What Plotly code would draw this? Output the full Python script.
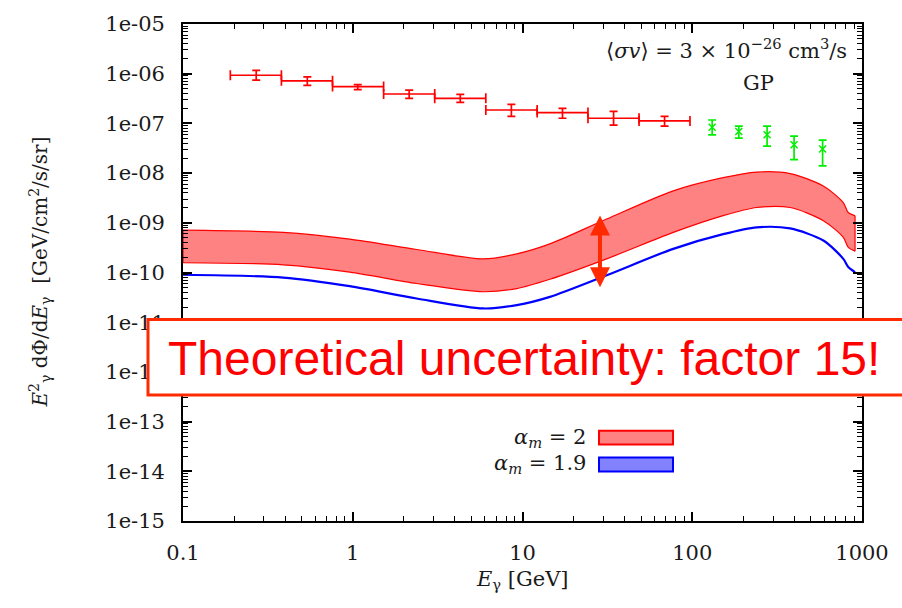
import math
import plotly.graph_objects as go

# ---------------- data ----------------
# Fermi-like data (red): bin edges, centres, flux and error limits
fermi_elo = [0.19, 0.38, 0.76, 1.52, 3.04, 6.08, 12.2, 24.3, 48.6]
fermi_ehi = [0.38, 0.76, 1.52, 3.04, 6.08, 12.2, 24.3, 48.6, 97.0]
fermi_e = [0.27, 0.54, 1.07, 2.15, 4.3, 8.6, 17.2, 34.4, 68.7]
fermi_flux = [9.3e-7, 7.2e-7, 5.5e-7, 3.9e-7, 3.2e-7, 1.86e-7, 1.65e-7, 1.27e-7, 1.12e-7]
fermi_hi = [1.17e-6, 8.6e-7, 6.05e-7, 4.67e-7, 3.83e-7, 2.42e-7, 2.0e-7, 1.75e-7, 1.39e-7]
fermi_lo = [7.4e-7, 5.8e-7, 4.8e-7, 3.18e-7, 2.65e-7, 1.39e-7, 1.27e-7, 9.2e-8, 8.8e-8]

# HESS-like data (green)
hess_e = [131, 188, 276, 398, 586]
hess_flux = [8.4e-8, 6.9e-8, 5.9e-8, 3.72e-8, 3.05e-8]
hess_hi = [1.17e-7, 8.8e-8, 8.8e-8, 5.55e-8, 4.6e-8]
hess_lo = [5.9e-8, 5.07e-8, 3.5e-8, 1.87e-8, 1.4e-8]

# model curves
band_e = [0.1, 0.39, 0.96, 2.38, 5.88, 9.25, 14.5, 31.3, 77.3, 152, 240, 377, 592, 776, 830, 910]
alpha2_upper = [7.1e-10, 6.4e-10, 4.7e-10, 2.9e-10, 1.88e-10, 2.37e-10, 3.76e-10, 1.19e-9,
                4.4e-9, 8.1e-9, 1.05e-8, 9.8e-9, 5.5e-9, 2.55e-9, 1.61e-9, 1.39e-9]
alpha2_lower = [1.57e-10, 1.43e-10, 1.02e-10, 6.0e-11, 4.1e-11, 4.75e-11, 7.3e-11, 1.88e-10,
                6.4e-10, 1.39e-9, 2.03e-9, 2.03e-9, 1.10e-9, 5.1e-10, 3.2e-10, 2.69e-10]
alpha19 = [9.0e-11, 7.9e-11, 5.3e-11, 3.0e-11, 1.89e-11, 2.21e-11, 3.24e-11, 8.8e-11,
           2.99e-10, 5.9e-10, 8.1e-10, 7.7e-10, 4.4e-10, 1.88e-10, 1.29e-10, 1.02e-10]

# arrow (uncertainty marker)
arrow_e = 28.6
arrow_top = 1.41e-9
arrow_bottom = 4.7e-11

# ticks
x_tickvals = [0.1, 1, 10, 100, 1000]
x_ticktext = ["0.1", "1", "10", "100", "1000"]
y_exps = [-5, -6, -7, -8, -9, -10, -11, -12, -13, -14, -15]
y_tickvals = [10.0 ** e for e in y_exps]
y_ticktext = ["1e-%02d" % (-e) for e in y_exps]

legend_labels = ["<i>α</i><sub><i>m</i></sub> = 2", "<i>α</i><sub><i>m</i></sub> = 1.9"]

# ---------------- figure ----------------
RED = "#ff0000"
BLUE = "#0000ff"
GREEN = "#00ee00"
ORANGE_RED = "#ff2a00"
SERIF = "DejaVu Serif"
TXT = "#1a1a1a"

fig = go.Figure()

# red band: lower edge then upper edge filled to it
fig.add_trace(go.Scatter(x=band_e, y=alpha2_lower, mode="lines",
                         line=dict(color=RED, width=1.2, shape="spline", smoothing=0.8),
                         showlegend=False, hoverinfo="skip"))
fig.add_trace(go.Scatter(x=band_e, y=alpha2_upper, mode="lines", fill="tonexty",
                         fillcolor="#ff8282",
                         line=dict(color=RED, width=1.2, shape="spline", smoothing=0.8),
                         showlegend=False, hoverinfo="skip"))
# band end borders
fig.add_trace(go.Scatter(x=[band_e[0], band_e[0], None, band_e[-1], band_e[-1]],
                         y=[alpha2_lower[0], alpha2_upper[0], None, alpha2_lower[-1], alpha2_upper[-1]],
                         mode="lines", line=dict(color=RED, width=1.2),
                         showlegend=False, hoverinfo="skip"))

# blue curve
fig.add_trace(go.Scatter(x=band_e, y=alpha19, mode="lines",
                         line=dict(color=BLUE, width=2.2, shape="spline", smoothing=0.8),
                         showlegend=False, hoverinfo="skip"))

# Fermi data
fig.add_trace(go.Scatter(
    x=fermi_e, y=fermi_flux, mode="markers",
    marker=dict(size=1, color=RED),
    error_x=dict(type="data", symmetric=False,
                 array=[h - e for h, e in zip(fermi_ehi, fermi_e)],
                 arrayminus=[e - l for e, l in zip(fermi_e, fermi_elo)],
                 color=RED, thickness=1.7, width=5),
    error_y=dict(type="data", symmetric=False,
                 array=[h - f for h, f in zip(fermi_hi, fermi_flux)],
                 arrayminus=[f - l for f, l in zip(fermi_flux, fermi_lo)],
                 color=RED, thickness=1.7, width=4),
    showlegend=False, hoverinfo="skip"))

# HESS data
fig.add_trace(go.Scatter(
    x=hess_e, y=hess_flux, mode="markers",
    marker=dict(symbol="x-thin", size=7, color=GREEN, line=dict(color=GREEN, width=1.5)),
    error_y=dict(type="data", symmetric=False,
                 array=[h - f for h, f in zip(hess_hi, hess_flux)],
                 arrayminus=[f - l for f, l in zip(hess_flux, hess_lo)],
                 color=GREEN, thickness=1.7, width=4),
    showlegend=False, hoverinfo="skip"))

axis_common = dict(
    type="log", showline=True, linecolor="black", linewidth=1.8, mirror="allticks",
    ticks="inside", ticklen=9, tickwidth=1.5, tickcolor="black",
    showgrid=False, zeroline=False,
    tickfont=dict(family=SERIF, size=21, color=TXT),
    minor=dict(ticks="inside", ticklen=5, tickwidth=1.2, tickcolor="black",
               dtick="D1", showgrid=False),
)

fig.update_xaxes(**axis_common, range=[-1, 3], tickmode="array",
                 tickvals=x_tickvals, ticktext=x_ticktext, ticklabelstandoff=12)
fig.update_yaxes(**axis_common, range=[-15, -5], tickmode="array",
                 tickvals=y_tickvals, ticktext=y_ticktext, ticklabelstandoff=12)

annotations = []
# arrow
annotations.append(dict(x=math.log10(arrow_e), y=math.log10(arrow_top),
                        ax=math.log10(arrow_e), ay=math.log10(arrow_bottom),
                        xref="x", yref="y", axref="x", ayref="y", text="",
                        showarrow=True, arrowside="end+start", arrowhead=2,
                        arrowsize=1.0, arrowwidth=4, arrowcolor=ORANGE_RED))
# header texts
annotations.append(dict(x=0.981, y=0.950, xref="paper", yref="paper",
                        xanchor="right", yanchor="middle", showarrow=False,
                        text="⟨<i>σv</i>⟩ = 3 × 10<sup>−26</sup> cm<sup>3</sup>/s",
                        font=dict(family=SERIF, size=21, color=TXT)))
annotations.append(dict(x=0.847, y=0.882, xref="paper", yref="paper",
                        xanchor="center", yanchor="middle", showarrow=False,
                        text="GP", font=dict(family=SERIF, size=21, color=TXT)))
# axis titles
annotations.append(dict(x=0.5, y=-0.118, xref="paper", yref="paper",
                        xanchor="center", yanchor="middle", showarrow=False,
                        text="<i>E</i><sub>γ</sub> [GeV]",
                        font=dict(family=SERIF, size=21, color=TXT)))
annotations.append(dict(x=-0.2106, y=0.5, xref="paper", yref="paper",
                        xanchor="center", yanchor="middle", showarrow=False, textangle=-90,
                        text="<i>E</i><sup>2</sup><sub>γ</sub> dΦ/d<i>E</i><sub>γ</sub>  [GeV/cm<sup>2</sup>/s/sr]",
                        font=dict(family=SERIF, size=20, color=TXT)))
# legend texts
annotations.append(dict(x=(588 - 183) / 679, y=(521 - 437) / 501, xref="paper", yref="paper",
                        xanchor="right", yanchor="middle", showarrow=False,
                        text=legend_labels[0], font=dict(family=SERIF, size=21, color=TXT)))
annotations.append(dict(x=(588 - 183) / 679, y=(521 - 464) / 501, xref="paper", yref="paper",
                        xanchor="right", yanchor="middle", showarrow=False,
                        text=legend_labels[1], font=dict(family=SERIF, size=21, color=TXT)))
# callout text
annotations.append(dict(x=0.5015, y=(521 - 357) / 501, xref="paper", yref="paper",
                        xanchor="center", yanchor="middle", showarrow=False,
                        text="Theoretical uncertainty: factor 15!",
                        font=dict(family="Liberation Sans", size=48, color="#ff0000")))

shapes = [
    # legend keys
    dict(type="rect", xref="paper", yref="paper",
         x0=(599 - 183) / 679, x1=(673 - 183) / 679, y0=(521 - 444) / 501, y1=(521 - 430) / 501,
         line=dict(color=RED, width=2), fillcolor="#ff8282", layer="above"),
    dict(type="rect", xref="paper", yref="paper",
         x0=(599 - 183) / 679, x1=(673 - 183) / 679, y0=(521 - 471) / 501, y1=(521 - 457) / 501,
         line=dict(color=BLUE, width=2), fillcolor="#8282ff", layer="above"),
    # callout box
    dict(type="rect", xref="paper", yref="paper",
         x0=(148 - 183) / 679, x1=1.12, y0=(521 - 394) / 501, y1=(521 - 318) / 501,
         line=dict(color=ORANGE_RED, width=3), fillcolor="white", layer="above"),
]

fig.update_layout(
    width=902, height=608,
    margin=dict(l=183, r=40, t=20, b=87),
    paper_bgcolor="white", plot_bgcolor="white",
    showlegend=False,
    annotations=annotations,
    shapes=shapes,
)

fig.write_html("out.html",
               config={"displayModeBar": False},
               post_script="document.body.style.margin='0';document.body.style.padding='0';")
